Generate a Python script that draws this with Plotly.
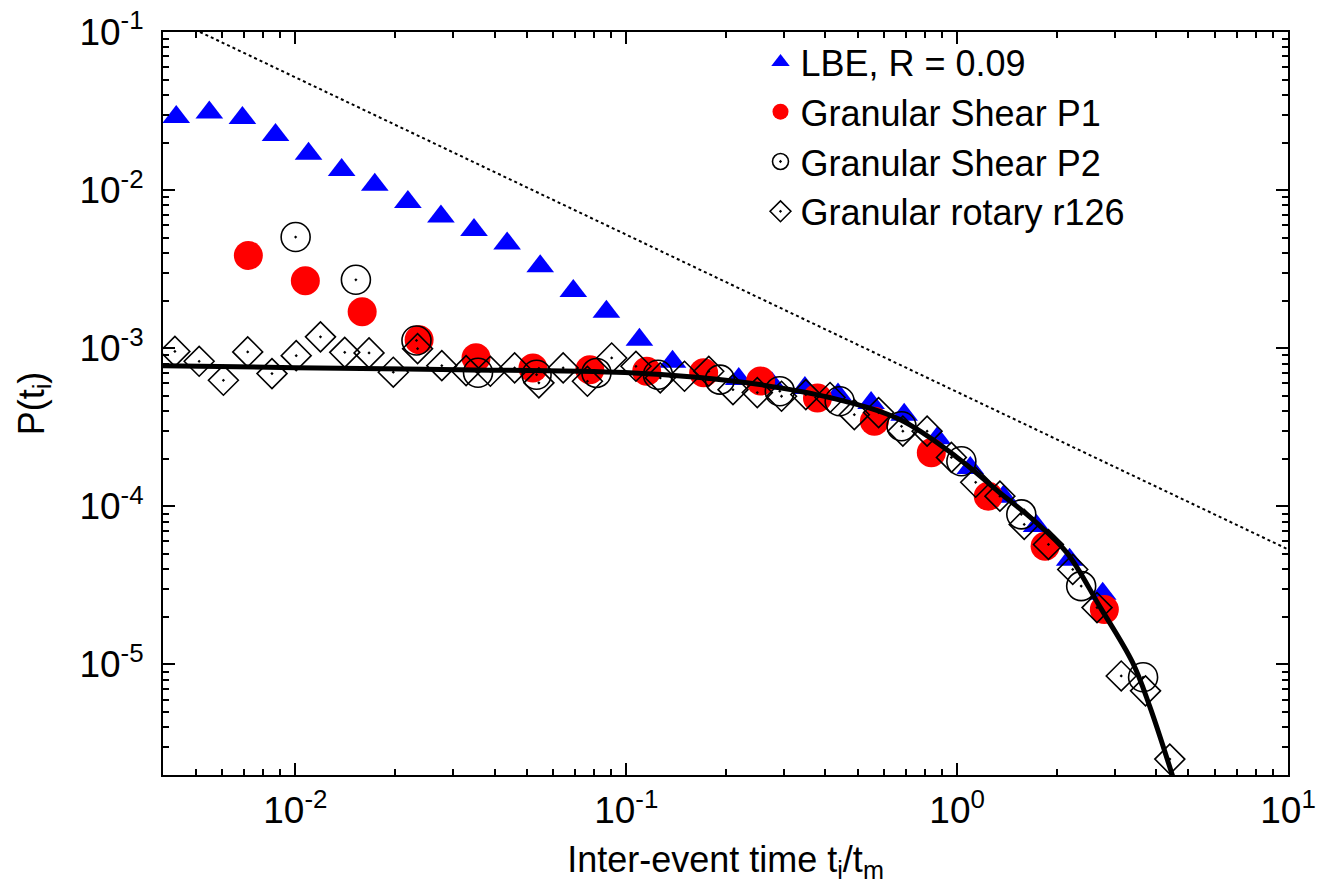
import plotly.graph_objects as go

# LBE, R = 0.09 (blue triangles)
lbe_x = [0.004365, 0.005495, 0.006918, 0.008710, 0.01096, 0.01380, 0.01738, 0.02188,
         0.02754, 0.03467, 0.04365, 0.05495, 0.06918, 0.08710, 0.1096, 0.1380,
         0.1738, 0.2188, 0.2754, 0.3467, 0.4365, 0.5495, 0.6918, 0.8710,
         1.096, 1.380, 1.738, 2.188, 2.754]
lbe_y = [0.029, 0.031, 0.0286, 0.0223, 0.0170, 0.0134, 0.0108, 0.0084,
         0.0068, 0.0056, 0.0046, 0.0033, 0.0023, 0.0017, 0.00113, 0.00082,
         0.00069, 0.00064, 0.00060, 0.00056, 0.00051, 0.00045, 0.00038, 0.00027,
         0.000175, 0.000115, 7.5e-05, 4.6e-05, 2.8e-05]

# Granular Shear P1 (red filled circles)
p1_x = [0.00721, 0.01072, 0.01592, 0.02366, 0.03516, 0.05224, 0.07762, 0.1153,
        0.1714, 0.2547, 0.3784, 0.5623, 0.8356, 1.242, 1.845, 2.786]
p1_y = [0.00386, 0.00267, 0.00170, 0.00113, 0.00087, 0.00075, 0.00073, 0.000715,
        0.00070, 0.00062, 0.000485, 0.000345, 0.000218, 0.000116, 5.6e-05, 2.23e-05]

# Granular Shear P2 (open circles)
p2_x = [0.01002, 0.01524, 0.02323, 0.03565, 0.05358, 0.08128, 0.1247, 0.1919,
        0.2911, 0.4416, 0.6792, 1.030, 1.563, 2.371, 3.648]
p2_y = [0.00505, 0.00271, 0.00112, 0.00070, 0.00068, 0.000698, 0.00068, 0.000633,
        0.000535, 0.000462, 0.000321, 0.000193, 8.9e-05, 3.13e-05, 8.3e-06]

# Granular rotary r126 (open diamonds)
r126_x = [0.004325, 0.005120, 0.006062, 0.007178, 0.008498, 0.01006, 0.01191, 0.01410,
          0.01670, 0.01977, 0.02341, 0.02771, 0.03281, 0.03885, 0.04599, 0.05445,
          0.06447, 0.07633, 0.09036, 0.1070, 0.1267, 0.1500, 0.1776, 0.2102,
          0.2489, 0.2947, 0.3489, 0.4130, 0.4890, 0.5790, 0.6855, 0.8115,
          0.9609, 1.138, 1.347, 1.595, 1.888, 2.236, 2.647, 3.133, 3.710, 4.393]
r126_y = [0.000955, 0.000827, 0.000627, 0.000948, 0.000691, 0.000898, 0.00118, 0.000942,
          0.000934, 0.000705, 0.000994, 0.000776, 0.000722, 0.000715, 0.000751, 0.000604,
          0.000751, 0.000618, 0.000868, 0.000769, 0.000649, 0.000665, 0.000715, 0.000547,
          0.000524, 0.000497, 0.000509, 0.000488, 0.000380, 0.000392, 0.000299, 0.000299,
          0.000204, 0.000142, 0.000116, 7.69e-05, 5.74e-05, 3.99e-05, 2.29e-05, 8.46e-06,
          6.81e-06, 2.52e-06]

# fitted curve
fit_x = [0.00398, 0.01, 0.0314, 0.0991, 0.1667, 0.2535, 0.412, 0.671, 1.0,
         1.346, 1.692, 2.142, 2.697, 3.390, 3.818, 4.48]
fit_y = [7.76e-04, 7.54e-04, 7.32e-04, 7.02e-04, 6.52e-04, 5.89e-04, 4.88e-04, 3.54e-04, 2.04e-04,
         1.22e-04, 8.26e-05, 5.12e-05, 2.33e-05, 1.03e-05, 5.45e-06, 1.97e-06]

# dotted guide line
guide_x = [0.00515, 10]
guide_y = [0.1, 5.35e-05]

x_ticks = [0.01, 0.1, 1, 10]
x_ticktext = ['10<sup>-2</sup>', '10<sup>-1</sup>', '10<sup>0</sup>', '10<sup>1</sup>']
y_ticks = [1e-5, 1e-4, 1e-3, 1e-2, 1e-1]
y_ticktext = ['10<sup>-5</sup>', '10<sup>-4</sup>', '10<sup>-3</sup>', '10<sup>-2</sup>', '10<sup>-1</sup>']

x_minor = [m * 10 ** e for e in range(-3, 1) for m in range(2, 10)]
y_minor = [m * 10 ** e for e in range(-6, -1) for m in range(2, 10)]

fnt = 'Liberation Sans, Arial, sans-serif'

fig = go.Figure()
fig.add_trace(go.Scatter(x=lbe_x, y=lbe_y, mode='markers', name='LBE, R = 0.09',
                         marker=dict(symbol='triangle-up', size=24, color='#0000ff')))
fig.add_trace(go.Scatter(x=p1_x, y=p1_y, mode='markers', name='Granular Shear P1',
                         marker=dict(symbol='circle', size=29, color='#ff0000')))
fig.add_trace(go.Scatter(x=p2_x, y=p2_y, mode='markers', name='Granular Shear P2',
                         marker=dict(symbol='circle-open-dot', size=29, color='black',
                                     line=dict(width=1.6, color='black'))))
fig.add_trace(go.Scatter(x=r126_x, y=r126_y, mode='markers', name='Granular rotary r126',
                         marker=dict(symbol='diamond-open-dot', size=23, color='black',
                                     line=dict(width=1.6, color='black'))))
fig.add_trace(go.Scatter(x=fit_x, y=fit_y, mode='lines', showlegend=False,
                         line=dict(color='black', width=5, shape='spline')))
fig.add_trace(go.Scatter(x=guide_x, y=guide_y, mode='lines', showlegend=False,
                         line=dict(color='black', width=2, dash='dot')))

axis_common = dict(showline=True, linewidth=2, linecolor='black', mirror='ticks',
                   ticks='inside', ticklen=12, tickwidth=1.5, tickcolor='black',
                   showgrid=False, zeroline=False, automargin=False,
                   ticklabeloverflow='allow',
                   tickfont=dict(size=37, family=fnt, color='black'))

fig.update_xaxes(type='log', range=[-2.4, 1], tickvals=x_ticks, ticktext=x_ticktext,
                 ticklabelstandoff=2,
                 title=dict(text='Inter-event time t<sub>i</sub>/t<sub>m</sub>',
                            font=dict(size=36, family=fnt, color='black'), standoff=16),
                 minor=dict(tickmode='array', tickvals=x_minor, ticks='inside', ticklen=6,
                            tickwidth=1.5, tickcolor='black', showgrid=False),
                 **axis_common)
fig.update_yaxes(type='log', range=[-5.699, -1], tickvals=y_ticks, ticktext=y_ticktext,
                 ticklabelstandoff=10,
                 title=dict(text='P(t<sub>i</sub>)',
                            font=dict(size=36, family=fnt, color='black'), standoff=24),
                 minor=dict(tickmode='array', tickvals=y_minor, ticks='inside', ticklen=6,
                            tickwidth=1.5, tickcolor='black', showgrid=False),
                 **axis_common)

fig.update_layout(
    width=1324, height=890,
    margin=dict(l=163, r=36, t=32, b=115),
    plot_bgcolor='white', paper_bgcolor='white',
    font=dict(family=fnt, size=36, color='black'),
    legend=dict(x=0.86, xanchor='right', y=1.0, yanchor='top',
                bgcolor='rgba(0,0,0,0)', font=dict(size=36, family=fnt),
                tracegroupgap=0),
    showlegend=True,
)

# drop the default page margin so the figure sits at the window's corner
fig.write_html('out.html', config={'displayModeBar': False},
               post_script="document.body.style.margin = '0';")
